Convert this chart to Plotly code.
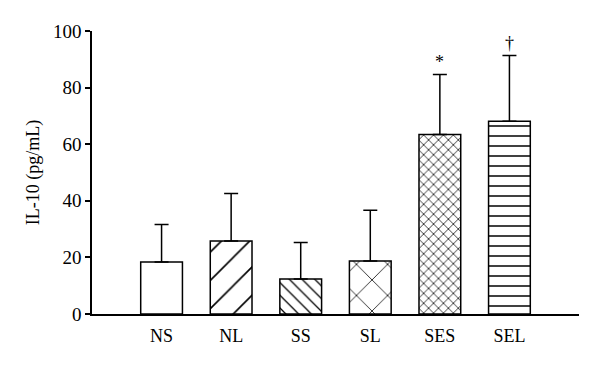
import plotly.graph_objects as go

categories = ["NS", "NL", "SS", "SL", "SES", "SEL"]
means = [18.4, 25.8, 12.4, 18.7, 63.4, 68.1]
upper_err = [13.2, 16.8, 12.9, 18.0, 21.2, 23.2]
patterns = ["", "/", "\\", "x", "x", "-"]
pattern_sizes = [8, 20, 9, 22, 7, 10]
pattern_solidity = [0.1, 0.08, 0.14, 0.07, 0.2, 0.15]
marks = ["", "", "", "", "*", "†"]

FONT = "Liberation Serif"

fig = go.Figure()
fig.add_trace(go.Bar(
    x=categories,
    y=means,
    width=0.6,
    marker=dict(
        color="white",
        line=dict(color="black", width=1.5),
        pattern=dict(shape=patterns, size=pattern_sizes, solidity=pattern_solidity,
                     fgcolor="black", bgcolor="white", fgopacity=1,
                     fillmode="replace"),
    ),
    error_y=dict(type="data", array=upper_err, arrayminus=[0] * len(means),
                 symmetric=False, color="black", thickness=1.5, width=7),
    showlegend=False,
))

for c, m, e, t in zip(categories, means, upper_err, marks):
    if t:
        fig.add_annotation(x=c, y=m + e, text=t, showarrow=False,
                           yanchor="bottom", yshift=1,
                           font=dict(family=FONT, size=18, color="black"))

# page body has an 8px default margin; offset margins so the plot area lands where the reference has it
fig.update_layout(
    width=600, height=367,
    margin=dict(l=84, r=29, t=23, b=61),
    plot_bgcolor="white", paper_bgcolor="white",
    font=dict(family=FONT, size=18, color="black"),
    bargap=0.4,
)
fig.update_xaxes(range=[-1.0, 6.0], showline=True, linecolor="black",
                 linewidth=1.5, ticks="", showgrid=False, zeroline=False,
                 automargin=False, ticklabelstandoff=5,
                 tickfont=dict(family=FONT, size=18))
fig.update_yaxes(range=[0, 100], tickvals=[0, 20, 40, 60, 80, 100],
                 showline=True, linecolor="black", linewidth=1.5,
                 ticks="outside", ticklen=5, tickwidth=1.5, tickcolor="black",
                 showgrid=False, zeroline=False, automargin=False,
                 title=dict(text="IL-10 (pg/mL)", font=dict(family=FONT, size=18), standoff=9),
                 tickfont=dict(family=FONT, size=19))

fig.write_html("out.html")
